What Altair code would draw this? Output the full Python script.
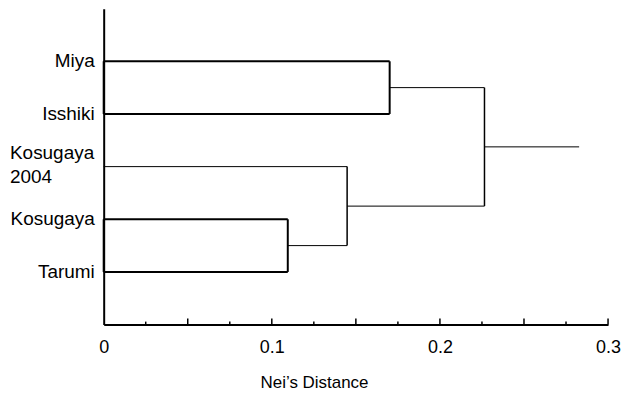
import altair as alt
import pandas as pd

# ---- data ----
leaves = ["Miya", "Isshiki", "Kosugaya\n2004", "Kosugaya", "Tarumi"]
# merges in order: (child A, child B) -> new cluster name, at height
merge_children = [("Kosugaya", "Tarumi"), ("Kosugaya\n2004", "C1"),
                  ("Miya", "Isshiki"), ("C3", "C2")]
merge_names = ["C1", "C2", "C3", "Root"]
merge_heights = [0.1095, 0.1448, 0.1701, 0.2265]
root_tail = 0.2828

major_ticks = [0.05, 0.10, 0.15, 0.20, 0.25, 0.30]
minor_ticks = [0.025, 0.075, 0.125, 0.175, 0.225, 0.275]
axis_labels = [0, 0.1, 0.2, 0.3]

W, H = 506, 317
FONT = "Liberation Sans"

# ---- build dendrogram segments from the tree ----
pos = {}
n = len(leaves)
for i, lf in enumerate(leaves):
    pos[lf] = (0.0, n - i)
is_leaf = set(leaves)
segs = []
for (a, b), name, h in zip(merge_children, merge_names, merge_heights):
    (xa, ya), (xb, yb) = pos[a], pos[b]
    box = a in is_leaf and b in is_leaf
    hw = 2 if box else 1
    vw = 2 if box else 1.5
    segs.append(dict(x=xa, x2=h, y=ya, y2=ya, w=hw))
    segs.append(dict(x=xb, x2=h, y=yb, y2=yb, w=hw))
    segs.append(dict(x=h, x2=h, y=ya, y2=yb, w=vw))
    if box:
        segs.append(dict(x=0.0, x2=0.0, y=ya, y2=yb, w=2))
    pos[name] = (h, (ya + yb) / 2)
rx, ry = pos["Root"]
segs.append(dict(x=rx, x2=root_tail, y=ry, y2=ry, w=1))
seg_df = pd.DataFrame(segs)

lab_df = pd.DataFrame({"label": leaves, "y": [n - i for i in range(n)]})
lab_df["multi"] = lab_df["label"].str.contains("\n")

tick_df = pd.DataFrame({
    "v": major_ticks + minor_ticks,
    "len": [6] * len(major_ticks) + [3] * len(minor_ticks),
})
tick_df["top"] = H - tick_df["len"]

xscale = alt.Scale(domain=[0, 0.3], nice=False, zero=False)
yscale = alt.Scale(domain=[0, 6], nice=False)

xaxis = alt.Axis(
    values=axis_labels, format="~g", ticks=False, grid=False,
    domainColor="black", domainWidth=2,
    labelFont=FONT, labelFontSize=18, labelColor="black", labelPadding=14,
    labelFlush=False,
    title="Nei\u2019s Distance", titleFont=FONT, titleFontSize=17,
    titleFontWeight="normal", titleColor="black",
    titleX=211, titleY=63, titleAlign="center", titleBaseline="alphabetic",
    titleAnchor="start",
)
yaxis = alt.Axis(labels=False, ticks=False, grid=False, title=None,
                 domainColor="black", domainWidth=2)

lines = alt.Chart(seg_df).mark_rule(color="black").encode(
    x=alt.X("x:Q", scale=xscale, axis=xaxis),
    x2="x2:Q",
    y=alt.Y("y:Q", scale=yscale, axis=yaxis),
    y2="y2:Q",
    strokeWidth=alt.StrokeWidth("w:Q", scale=None, legend=None),
)

ticks = alt.Chart(tick_df).mark_rule(color="black", strokeWidth=1.5).encode(
    x=alt.X("v:Q", scale=xscale),
    y=alt.Y("top:Q", scale=None),
    y2=alt.Y2("H:Q"),
).transform_calculate(H=str(H))

labels_single = alt.Chart(lab_df).transform_filter("!datum.multi").mark_text(
    align="right", baseline="middle", font=FONT, fontSize=19, color="black"
).encode(
    x=alt.value(-9),
    y=alt.Y("y:Q", scale=yscale),
    text="label:N",
)

labels_multi = alt.Chart(lab_df).transform_filter("datum.multi").mark_text(
    align="left", baseline="middle", font=FONT, fontSize=19, color="black",
    lineBreak="\n", lineHeight=24, dy=-14,
).encode(
    x=alt.value(-94),
    y=alt.Y("y:Q", scale=yscale),
    text="label:N",
)

chart = alt.layer(lines, ticks, labels_single, labels_multi).properties(
    width=W, height=H,
    autosize=alt.AutoSizeParams(type="none"),
    padding={"left": 96, "top": 0, "right": 14, "bottom": 70},
).configure_view(stroke=None)

chart.save("out.html", embed_options={"renderer": "svg", "actions": False})
